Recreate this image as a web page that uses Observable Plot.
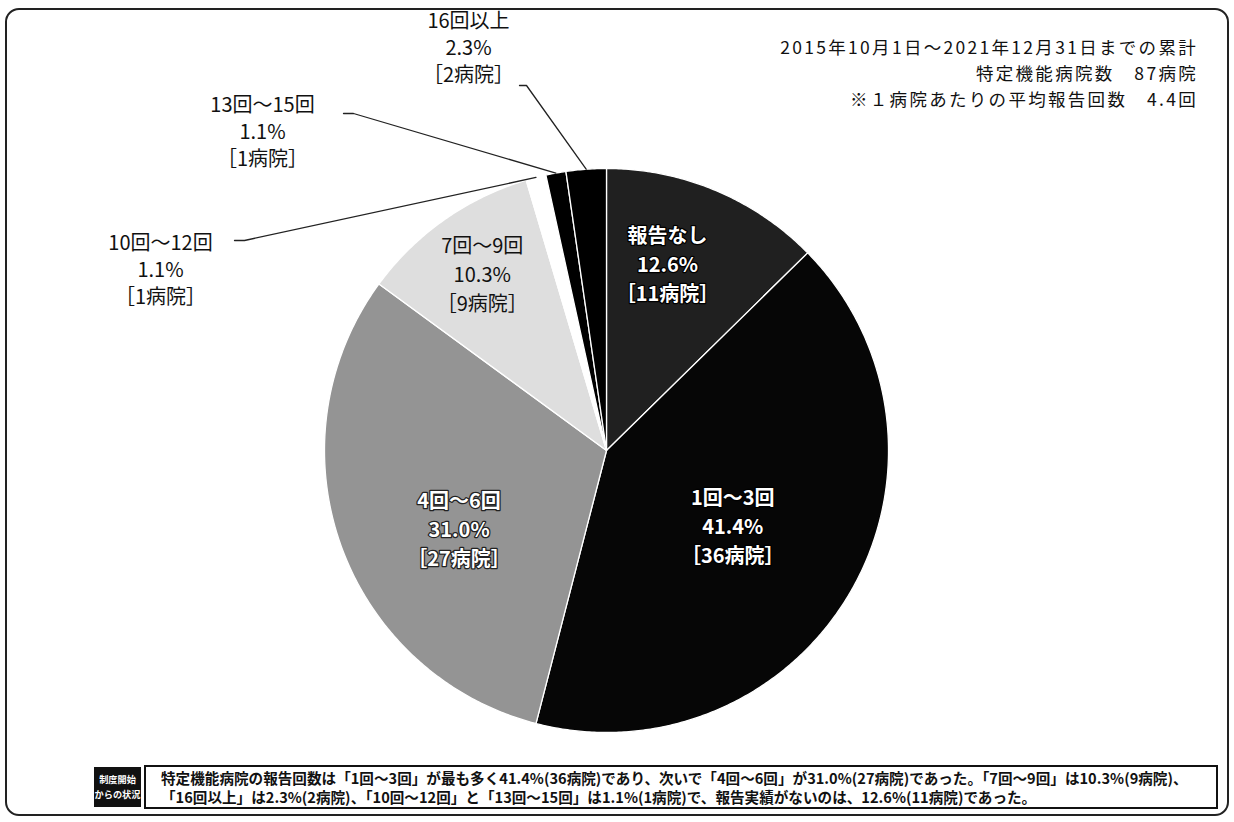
<!DOCTYPE html>
<html><head><meta charset="utf-8">
<script src="https://cdn.jsdelivr.net/npm/d3@7"></script>
<script src="https://cdn.jsdelivr.net/npm/@observablehq/plot@0.6"></script>
<style>
body{margin:0;background:#fff;font-family:"Noto Sans CJK JP","Noto Sans",sans-serif;}
#wrap{position:relative;width:1234px;height:822px;overflow:hidden;background:#fff}
#frame{position:absolute;left:5px;top:8px;width:1224px;height:808px;border:2px solid #222;border-radius:14px;box-sizing:border-box}
#chart{position:absolute;left:0;top:0}
#title{position:absolute;right:36px;top:34px;text-align:right;font-size:17.5px;line-height:26px;letter-spacing:2.3px;color:#111;white-space:nowrap}
#tag{position:absolute;left:94px;top:767px;width:47px;height:40px;background:#111;color:#fff;font-weight:bold;font-size:9.2px;line-height:15px;text-align:center;display:flex;flex-direction:column;justify-content:center;white-space:nowrap}
#cap{position:absolute;left:144px;top:765px;width:1074px;height:44px;border:2px solid #111;box-sizing:border-box;font-size:14.6px;line-height:19px;padding:1px 0 0 15px;font-weight:bold;color:#111;white-space:nowrap}
</style></head>
<body>
<div id="wrap">
  <div id="frame"></div>
  <div id="chart"></div>
  <div id="title"></div>
  <div id="tag"><div>制度開始</div><div>からの状況</div></div>
  <div id="cap"></div>
</div>
<script>
// ---- data ----
const categories = ["報告なし","1回～3回","4回～6回","7回～9回","10回～12回","13回～15回","16回以上"];
const hospitals  = [11, 36, 27, 9, 1, 1, 2];
const percents   = [12.6, 41.4, 31.0, 10.3, 1.1, 1.1, 2.3];
const titleLines = ["2015年10月1日～2021年12月31日までの累計", "特定機能病院数　87病院", "※１病院あたりの平均報告回数　4.4回"];
const captionLines = [
  "特定機能病院の報告回数は「1回～3回」が最も多く41.4%(36病院)であり、次いで「4回～6回」が31.0%(27病院)であった。「7回～9回」は10.3%(9病院)、",
  "「16回以上」は2.3%(2病院)、「10回～12回」と「13回～15回」は1.1%(1病院)で、報告実績がないのは、12.6%(11病院)であった。"
];

// ---- styles / layout ----
const fills = ["#202020", "#060606", "#949494", "#dedede", "#ffffff", "#000000", "#000000"];
const W = 1234, H = 822;
const PIE = {cx: 606, cy: 450, r: 282};
// inside labels: radius fraction and angle (deg, clockwise from top)
const insideLayout = [
  {i: 0, rf: 0.70, deg: 18,    color: "#fff", halo: "#000", weight: "bold"},
  {i: 1, rf: 0.52, deg: 120.6, color: "#fff", halo: "#000", weight: "bold"},
  {i: 2, rf: 0.59, deg: 242.4, color: "#fff", halo: "#222", weight: "bold"},
  {i: 3, rf: 0.77, deg: 325.1, color: "#111", halo: "none", weight: "normal"}
];
// outside labels (pixel positions of text centre) and leader-line start points
const outsideLayout = [
  {i: 6, px: 468, py: 46,  ax: 519, ay: 85,  stub: 7},
  {i: 5, px: 262, py: 130, ax: 343, ay: 113, stub: 10},
  {i: 4, px: 160, py: 268, ax: 234, ay: 240, stub: 10}
];

document.getElementById("title").innerHTML = titleLines.map(t => `<div>${t}</div>`).join("");
document.getElementById("cap").innerHTML = captionLines.map(t => `<div>${t}</div>`).join("");

const toU = (px, py) => ({x: (px - PIE.cx) / PIE.r, y: (PIE.cy - py) / PIE.r});
const label = i => `${categories[i]}\n${percents[i].toFixed(1)}%\n［${hospitals[i]}病院］`;

const arcs = d3.pie().sort(null).value(d => d)(hospitals);
const poly = [];
arcs.forEach((a, i) => {
  const key = categories[i];
  poly.push({key, x: 0, y: 0});
  const n = Math.max(2, Math.ceil((a.endAngle - a.startAngle) / (Math.PI / 360)));
  for (let k = 0; k <= n; k++) {
    const t = a.startAngle + (a.endAngle - a.startAngle) * k / n;
    poly.push({key, x: Math.sin(t), y: Math.cos(t)});
  }
});

const inside = insideLayout.map(d => {
  const t = d.deg * Math.PI / 180;
  return {...d, x: d.rf * Math.sin(t), y: d.rf * Math.cos(t), text: label(d.i)};
});
const outside = outsideLayout.map(d => ({...toU(d.px, d.py), text: label(d.i)}));
const leaders = [];
outsideLayout.forEach(d => {
  const a = arcs[d.i], m = (a.startAngle + a.endAngle) / 2;
  const p0 = toU(d.ax, d.ay), p1 = toU(d.ax + d.stub, d.ay);
  leaders.push({k: d.i, ...p0}, {k: d.i, ...p1}, {k: d.i, x: Math.sin(m), y: Math.cos(m)});
});

const chart = Plot.plot({
  width: W, height: H,
  margin: 0,
  x: {domain: [-PIE.cx / PIE.r, (W - PIE.cx) / PIE.r], axis: null},
  y: {domain: [-(H - PIE.cy) / PIE.r, PIE.cy / PIE.r], axis: null},
  color: {domain: categories, range: fills},
  style: {fontFamily: '"Noto Sans CJK JP", sans-serif', background: "transparent"},
  marks: [
    Plot.line(poly, {x: "x", y: "y", z: "key", fill: "key", stroke: "#fff", strokeWidth: 1.3, curve: "linear-closed"}),
    Plot.line(leaders, {x: "x", y: "y", z: "k", stroke: "#222", strokeWidth: 1.3}),
    Plot.text(outside, {x: "x", y: "y", text: "text", fontSize: 20, lineHeight: 1.35, fill: "#111", ariaLabel: "outside-labels"}),
    ...inside.map(d => Plot.text([d], {x: "x", y: "y", text: "text", fontSize: 20, lineHeight: 1.45,
      fill: d.color, stroke: d.halo, strokeWidth: d.halo === "none" ? 0 : 2.5, fontWeight: d.weight}))
  ]
});
d3.select(chart).selectAll('g[aria-label="outside-labels"] text').style("letter-spacing", "2px");
document.getElementById("chart").appendChild(chart);
</script>
</body></html>
